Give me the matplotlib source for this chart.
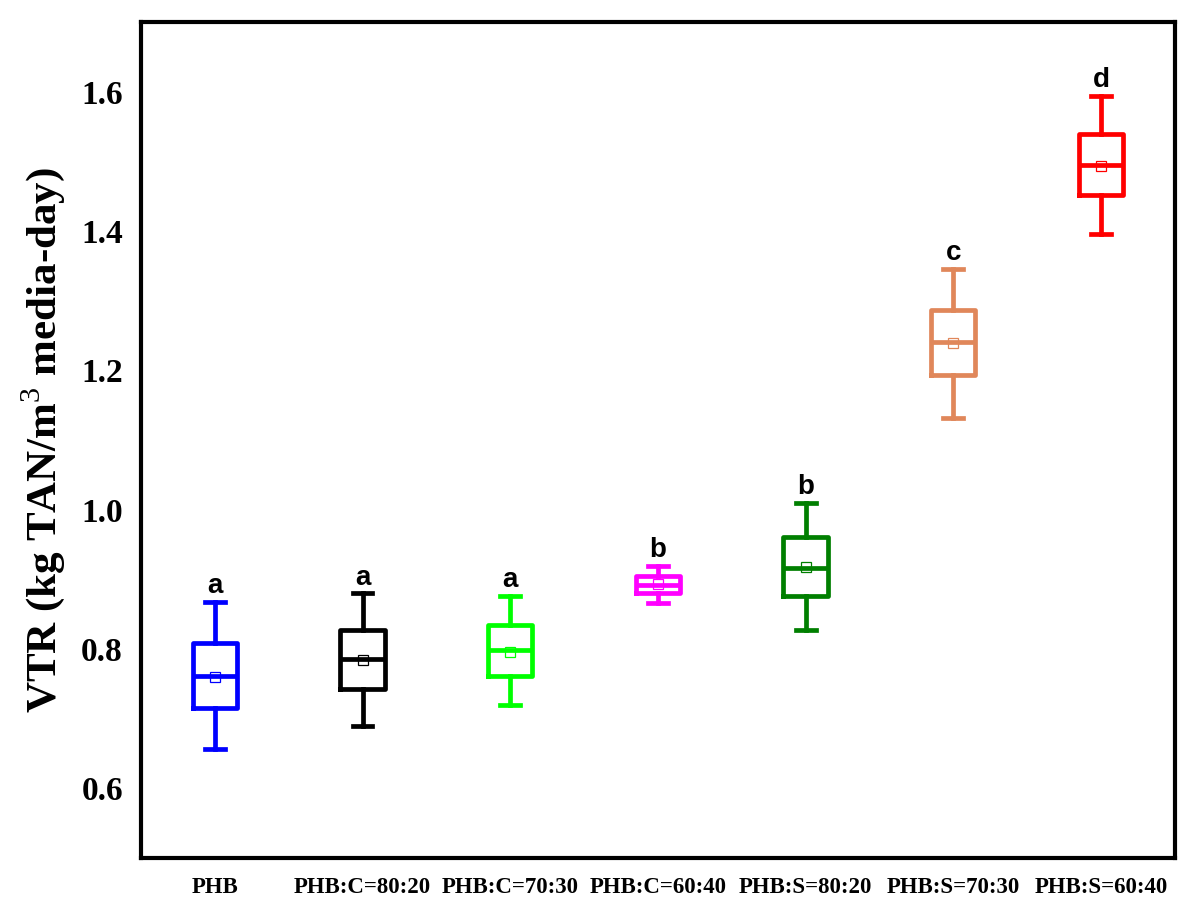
import matplotlib
matplotlib.use("Agg")
import matplotlib.pyplot as plt

plt.rcParams["mathtext.fontset"] = "custom"
plt.rcParams["mathtext.rm"] = "Liberation Serif"
plt.rcParams["mathtext.bf"] = "Liberation Serif:bold"

categories = ["PHB", "PHB:C=80:20", "PHB:C=70:30", "PHB:C=60:40",
              "PHB:S=80:20", "PHB:S=70:30", "PHB:S=60:40"]
whisker_low = [0.656, 0.690, 0.719, 0.866, 0.827, 1.132, 1.396]
q1 = [0.715, 0.743, 0.761, 0.880, 0.876, 1.193, 1.451]
median = [0.761, 0.785, 0.798, 0.892, 0.917, 1.240, 1.495]
q3 = [0.809, 0.827, 0.834, 0.905, 0.961, 1.287, 1.539]
whisker_high = [0.868, 0.880, 0.876, 0.919, 1.010, 1.346, 1.594]
means = [0.760, 0.784, 0.796, 0.893, 0.918, 1.239, 1.493]
letters = ["a", "a", "a", "b", "b", "c", "d"]
colors = ["#0000FF", "#000000", "#00FF00", "#FF00FF", "#007F00", "#E0875A", "#FF0000"]

fig = plt.figure(figsize=(12, 9.17), dpi=100)
ax = fig.add_axes([0.1175, 0.0643, 0.979 - 0.1175, 0.976 - 0.0643])

positions = list(range(1, len(categories) + 1))
for i, pos in enumerate(positions):
    stats = [dict(whislo=whisker_low[i], q1=q1[i], med=median[i], q3=q3[i],
                  whishi=whisker_high[i], mean=means[i], fliers=[], label="")]
    c = colors[i]
    ax.bxp(stats, positions=[pos], widths=0.30, showmeans=True, showfliers=False,
           boxprops=dict(color=c, linewidth=3.4),
           medianprops=dict(color=c, linewidth=3.4),
           whiskerprops=dict(color=c, linewidth=3.4),
           capprops=dict(color=c, linewidth=3.4),
           capwidths=0.135,
           meanprops=dict(marker="s", markerfacecolor="none", markeredgecolor=c,
                          markersize=7, markeredgewidth=0.9))
    ax.annotate(letters[i], xy=(pos, whisker_high[i]), xytext=(0, 2),
                textcoords="offset points", ha="center", va="bottom",
                fontsize=20, fontweight="bold", family="Liberation Sans")

ax.set_xlim(0.5, 7.5)
ax.set_ylim(0.5, 1.7)
ax.set_yticks([0.6, 0.8, 1.0, 1.2, 1.4, 1.6])
ax.set_yticklabels(["0.6", "0.8", "1.0", "1.2", "1.4", "1.6"],
                   family="Liberation Serif", fontweight="bold", fontsize=24)
ax.set_xticks(positions)
ax.set_xticklabels(categories, family="Liberation Serif", fontweight="bold", fontsize=16.5)
ax.tick_params(axis="both", length=0)
ax.tick_params(axis="y", pad=13)
ax.tick_params(axis="x", pad=14)
for sp in ax.spines.values():
    sp.set_linewidth(3)
    sp.set_color("black")

ax.set_ylabel("VTR (kg TAN/m$^{3}$ media-day)", family="Liberation Serif",
              fontweight="bold", fontsize=31, labelpad=10)

fig.savefig("out.png", dpi=100)
